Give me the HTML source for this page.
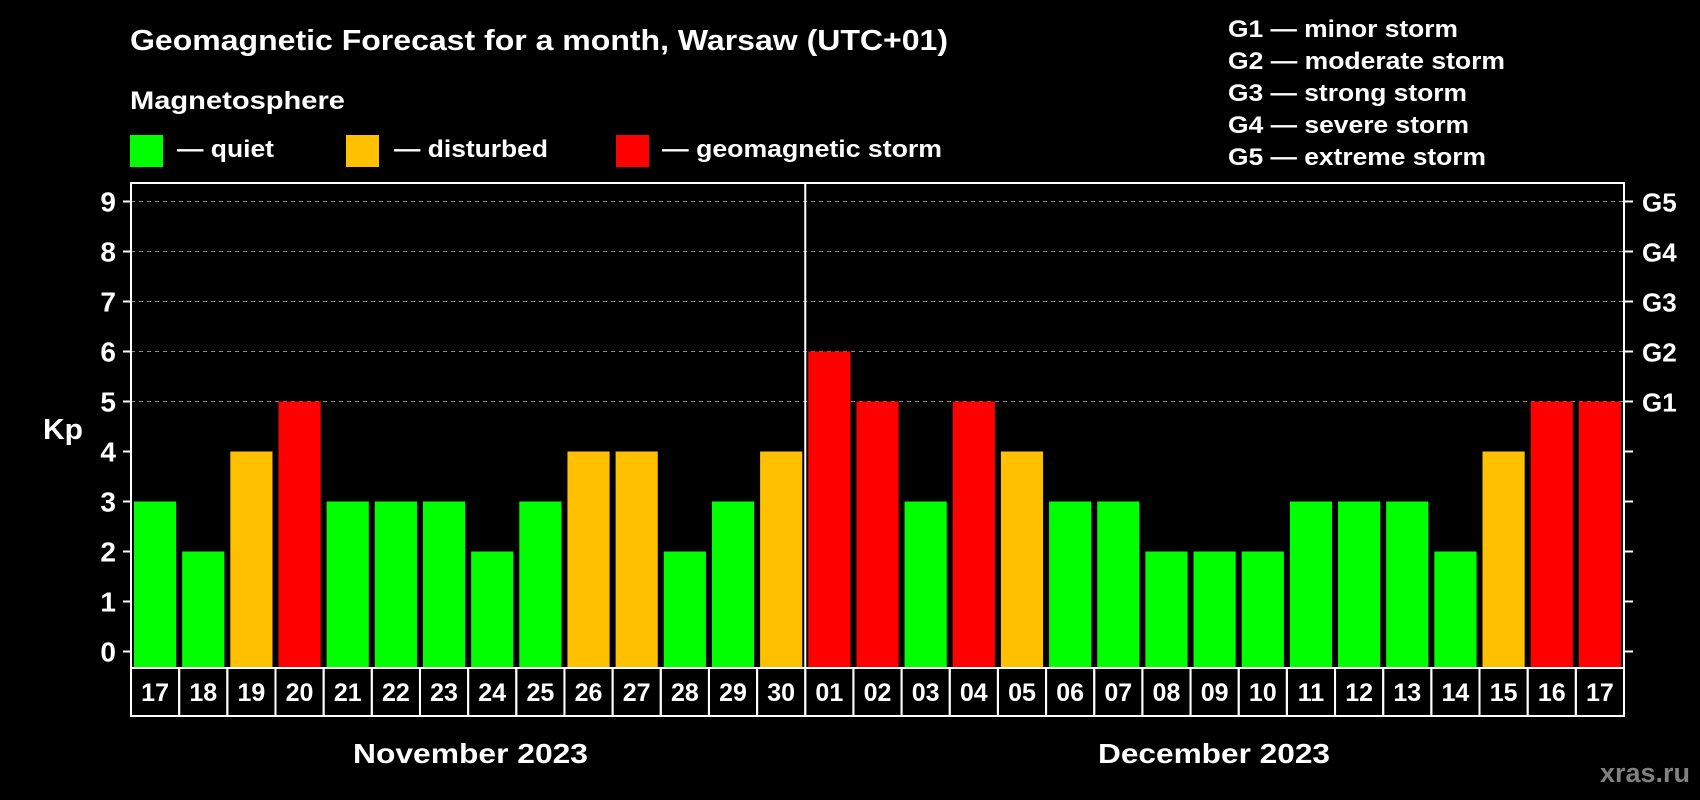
<!DOCTYPE html>
<html><head><meta charset="utf-8"><style>
html,body{margin:0;padding:0;background:#000;}
svg{display:block;font-family:"Liberation Sans",Arial,sans-serif;font-weight:bold;}
</style></head><body>
<svg id="chart" width="1700" height="800" viewBox="0 0 1700 800" xmlns="http://www.w3.org/2000/svg">
<rect width="1700" height="800" fill="#000"/>
<text x="130" y="50" fill="#fff" font-size="29" textLength="818" lengthAdjust="spacingAndGlyphs">Geomagnetic Forecast for a month, Warsaw (UTC+01)</text>
<text x="130" y="109" fill="#fff" font-size="25" textLength="215" lengthAdjust="spacingAndGlyphs">Magnetosphere</text>
<rect x="130" y="135" width="33" height="32" fill="#00ff00"/>
<text x="177" y="157" fill="#fff" font-size="24" textLength="97" lengthAdjust="spacingAndGlyphs">— quiet</text>
<rect x="346" y="135" width="33" height="32" fill="#ffc000"/>
<text x="394" y="157" fill="#fff" font-size="24" textLength="154" lengthAdjust="spacingAndGlyphs">— disturbed</text>
<rect x="616" y="135" width="33" height="32" fill="#ff0000"/>
<text x="662" y="157" fill="#fff" font-size="24" textLength="280" lengthAdjust="spacingAndGlyphs">— geomagnetic storm</text>
<g fill="#fff" font-size="24">
<text x="1228" y="37" textLength="230" lengthAdjust="spacingAndGlyphs">G1 — minor storm</text>
<text x="1228" y="69" textLength="277" lengthAdjust="spacingAndGlyphs">G2 — moderate storm</text>
<text x="1228" y="101" textLength="239" lengthAdjust="spacingAndGlyphs">G3 — strong storm</text>
<text x="1228" y="133" textLength="241" lengthAdjust="spacingAndGlyphs">G4 — severe storm</text>
<text x="1228" y="165" textLength="258" lengthAdjust="spacingAndGlyphs">G5 — extreme storm</text>
</g>
<text x="43" y="439" fill="#fff" font-size="29" textLength="40" lengthAdjust="spacingAndGlyphs">Kp</text>
<g id="plot"></g>
<text x="353" y="763" fill="#fff" font-size="28" textLength="235" lengthAdjust="spacingAndGlyphs">November 2023</text>
<text x="1098" y="763" fill="#fff" font-size="28" textLength="232" lengthAdjust="spacingAndGlyphs">December 2023</text>
<text x="1690" y="782" fill="#808080" font-size="27" text-anchor="end">xras.ru</text>
</svg>
<script>
const days = ["17","18","19","20","21","22","23","24","25","26","27","28","29","30","01","02","03","04","05","06","07","08","09","10","11","12","13","14","15","16","17"];
const kpValues = [3,2,4,5,3,3,3,2,3,4,4,2,3,4,6,5,3,5,4,3,3,2,2,2,3,3,3,2,4,5,5];
const yTicks = [0,1,2,3,4,5,6,7,8,9];
const gLabels = ["G1","G2","G3","G4","G5"];
const gLevels = [5,6,7,8,9];
const monthBreakIndex = 14;

const NS = "http://www.w3.org/2000/svg";
const plot = document.getElementById('plot');
const L = 131, R = 1624, T = 183, B = 668, DB = 716;
const cw = (R - L) / days.length;
const y = v => 651.5 - v * 50;
const x = i => L + i * cw;
function mk(tag, attrs){ const e = document.createElementNS(NS, tag); for (const k in attrs) e.setAttribute(k, attrs[k]); plot.appendChild(e); return e; }
function color(v){ return v >= 5 ? '#ff0000' : (v >= 4 ? '#ffc000' : '#00ff00'); }

gLevels.forEach((lv, i) => {
  const g = mk('line', {x1: L, x2: R, y1: y(lv), y2: y(lv), stroke: '#888', 'stroke-width': 1, 'stroke-dasharray': '4,4'});
  
  
  const t = mk('text', {x: 1642, y: y(lv) + 10, fill: '#fff', 'font-size': 26});
  t.textContent = gLabels[i];
  
  
});
yTicks.forEach(v => {
  const tl = mk('line', {x1: 123, x2: L, y1: y(v), y2: y(v), stroke: '#fff', 'stroke-width': 2});
  
  
  const tr = mk('line', {x1: R, x2: 1633, y1: y(v), y2: y(v), stroke: '#fff', 'stroke-width': 2});
  
  
  const t = mk('text', {x: 116, y: y(v) + 10, fill: '#fff', 'font-size': 28, 'text-anchor': 'end'});
  t.textContent = v;
  
  
});
kpValues.forEach((v, i) => {
  const b = mk('rect', {x: x(i) + 3, y: y(v), width: cw - 6, height: B - y(v), fill: color(v)});
  
  
  const c = mk('rect', {x: x(i), y: B, width: cw, height: DB - B, fill: 'none', stroke: '#fff', 'stroke-width': 2});
  
  
  const t = mk('text', {x: x(i) + cw / 2, y: 701, fill: '#fff', 'font-size': 25, 'text-anchor': 'middle'});
  t.textContent = days[i];
  
  
});
const vl = mk('line', {x1: x(monthBreakIndex), x2: x(monthBreakIndex), y1: T, y2: B, stroke: '#fff', 'stroke-width': 2});


const frame = mk('rect', {x: L, y: T, width: R - L, height: B - T, fill: 'none', stroke: '#fff', 'stroke-width': 2});


</script>
</body></html>
